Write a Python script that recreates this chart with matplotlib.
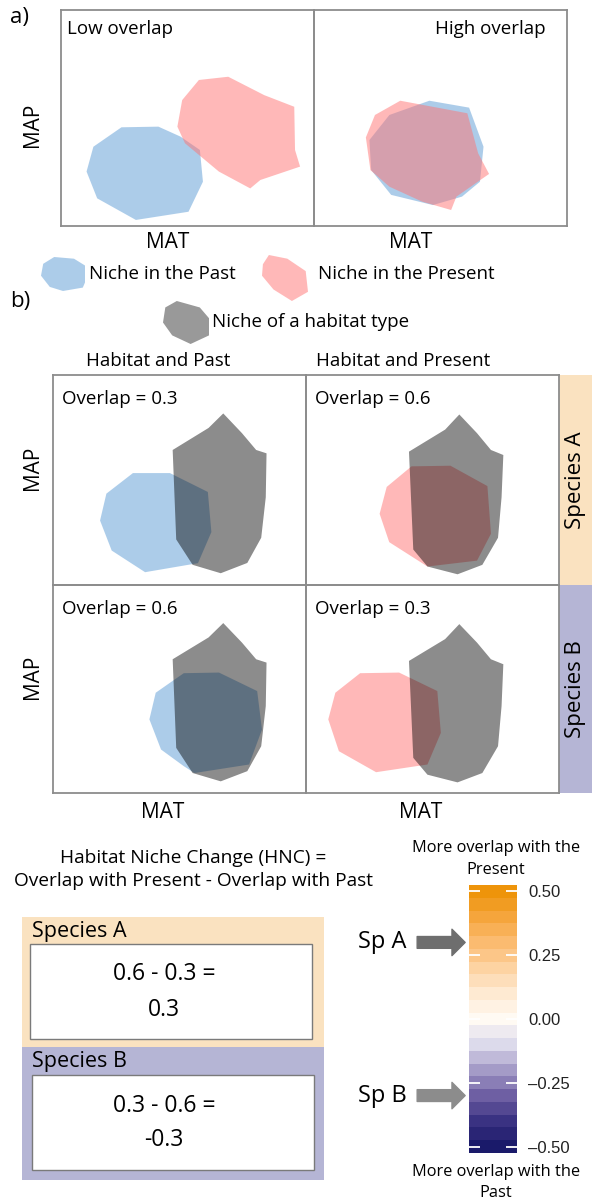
import matplotlib
matplotlib.use("Agg")
import matplotlib.pyplot as plt
from matplotlib.colors import LinearSegmentedColormap, ListedColormap, BoundaryNorm
from matplotlib.patches import Rectangle
import numpy as np

W, H = 592, 1203
plt.rcParams['font.family'] = ['Open Sans', 'DejaVu Sans']

# niche hulls (x = MAT, y = MAP, scaled 0-1 within each panel)
low_past_x = [0.239, 0.385, 0.472, 0.549, 0.561, 0.504, 0.296, 0.143, 0.101, 0.128]
low_past_y = [0.457, 0.460, 0.414, 0.352, 0.205, 0.066, 0.028, 0.128, 0.252, 0.367]
low_present_x = [0.545, 0.661, 0.803, 0.922, 0.925, 0.945, 0.788, 0.748, 0.624, 0.490, 0.460, 0.479]
low_present_y = [0.676, 0.691, 0.606, 0.552, 0.352, 0.275, 0.213, 0.174, 0.252, 0.383, 0.460, 0.583]
high_past_x = [0.456, 0.613, 0.670, 0.656, 0.585, 0.470, 0.305, 0.226, 0.219, 0.298]
high_past_y = [0.580, 0.548, 0.367, 0.205, 0.136, 0.097, 0.144, 0.259, 0.398, 0.514]
high_present_x = [0.341, 0.606, 0.649, 0.692, 0.563, 0.542, 0.427, 0.298, 0.223, 0.205, 0.241]
high_present_y = [0.580, 0.522, 0.336, 0.241, 0.136, 0.074, 0.113, 0.182, 0.259, 0.410, 0.514]

habitat_left_x = [0.673, 0.615, 0.473, 0.487, 0.552, 0.663, 0.768, 0.823, 0.841, 0.844, 0.803, 0.747]
habitat_left_y = [0.817, 0.748, 0.643, 0.217, 0.096, 0.056, 0.105, 0.225, 0.418, 0.627, 0.643, 0.723]
habitat_right_x = [0.606, 0.550, 0.407, 0.424, 0.480, 0.599, 0.697, 0.759, 0.773, 0.780, 0.731, 0.676]
habitat_right_y = [0.812, 0.740, 0.635, 0.169, 0.088, 0.051, 0.096, 0.225, 0.418, 0.619, 0.643, 0.723]

spA_past_x = [0.316, 0.462, 0.612, 0.626, 0.573, 0.364, 0.232, 0.186, 0.211]
spA_past_y = [0.533, 0.533, 0.443, 0.252, 0.104, 0.061, 0.164, 0.307, 0.435]
spA_present_x = [0.417, 0.571, 0.717, 0.731, 0.676, 0.480, 0.329, 0.291, 0.319]
spA_present_y = [0.565, 0.568, 0.471, 0.244, 0.116, 0.088, 0.204, 0.339, 0.467]
spB_past_x = [0.517, 0.656, 0.807, 0.826, 0.775, 0.559, 0.517, 0.427, 0.381, 0.406, 0.473]
spB_past_y = [0.576, 0.579, 0.490, 0.305, 0.137, 0.096, 0.129, 0.209, 0.354, 0.482, 0.539]
spB_present_x = [0.214, 0.368, 0.519, 0.533, 0.480, 0.277, 0.130, 0.088, 0.116]
spB_present_y = [0.576, 0.579, 0.490, 0.289, 0.137, 0.100, 0.201, 0.354, 0.482]

# small legend blobs
blob_past_x = [0.30, 0.75, 1.00, 1.00, 0.95, 0.50, 0.20, 0.00, 0.05]
blob_past_y = [1.00, 0.95, 0.75, 0.25, 0.10, 0.00, 0.12, 0.45, 0.80]
blob_present_x = [0.15, 0.55, 0.95, 1.00, 0.65, 0.25, 0.00, 0.02]
blob_present_y = [1.00, 0.92, 0.65, 0.20, 0.00, 0.25, 0.55, 0.80]
blob_habitat_x = [0.30, 0.80, 1.00, 1.00, 0.60, 0.20, 0.00, 0.05]
blob_habitat_y = [1.00, 0.85, 0.60, 0.20, 0.00, 0.20, 0.50, 0.85]

# overlaps and HNC
species = ['Species A', 'Species B']
overlap_past = [0.3, 0.6]
overlap_present = [0.6, 0.3]
hnc = [round(p - q, 1) for p, q in zip(overlap_present, overlap_past)]

hnc_levels = [-0.50, -0.45, -0.40, -0.35, -0.30, -0.25, -0.20, -0.15, -0.10, -0.05, 0.00,
              0.05, 0.10, 0.15, 0.20, 0.25, 0.30, 0.35, 0.40, 0.45, 0.50]
hnc_ticks = [0.50, 0.25, 0.00, -0.25, -0.50]
hnc_ticklabels = ['0.50', '0.25', '0.00', '\u20130.25', '\u20130.50']

PAST = '#5b9bd5'
PRESENT = '#ff7373'
EDGE = '#8c8c8c'
FS = 13.5
AXFS = 15

fig = plt.figure(figsize=(W / 100, H / 100), dpi=100)
bg = fig.add_axes([0, 0, 1, 1])
bg.set_xlim(0, W)
bg.set_ylim(H, 0)
bg.axis('off')


def px_axes(x0, y0, x1, y1):
    return fig.add_axes([x0 / W, 1 - y1 / H, (x1 - x0) / W, (y1 - y0) / H])


def panel(x0, y0, x1, y1):
    ax = px_axes(x0, y0, x1, y1)
    ax.set_xlim(0, 1)
    ax.set_ylim(0, 1)
    ax.set_xticks([])
    ax.set_yticks([])
    ax.patch.set_alpha(0)
    for s in ax.spines.values():
        s.set_color(EDGE)
        s.set_linewidth(1.3)
    return ax


def blob(x0, y0, x1, y1, xs, ys, **kw):
    ax = px_axes(x0, y0, x1, y1)
    ax.set_xlim(0, 1)
    ax.set_ylim(0, 1)
    ax.axis('off')
    ax.fill(xs, ys, lw=0, **kw)


# ---- a) low vs high overlap
bg.text(10, 17, 'a)', fontsize=16, va='center')
ax = panel(61, 10, 314, 226)
ax.fill(low_past_x, low_past_y, color=PAST, alpha=0.5, lw=0)
ax.fill(low_present_x, low_present_y, color=PRESENT, alpha=0.5, lw=0)
ax.text(0.025, 0.91, 'Low overlap', fontsize=FS, transform=ax.transAxes, va='center')
ax = panel(314, 10, 567, 226)
ax.fill(high_past_x, high_past_y, color=PAST, alpha=0.5, lw=0)
ax.fill(high_present_x, high_present_y, color=PRESENT, alpha=0.5, lw=0)
ax.text(0.915, 0.91, 'High overlap', fontsize=FS, transform=ax.transAxes, va='center', ha='right')
bg.text(33, 125, 'MAP', fontsize=AXFS, rotation=90, ha='center', va='center')
bg.text(168, 243, 'MAT', fontsize=AXFS, ha='center', va='center')
bg.text(411, 243, 'MAT', fontsize=AXFS, ha='center', va='center')

# legend
blob(41, 257, 85, 291, blob_past_x, blob_past_y, color=PAST, alpha=0.5)
bg.text(89, 274, 'Niche in the Past', fontsize=FS, va='center')
blob(262, 255, 308, 301, blob_present_x, blob_present_y, color=PRESENT, alpha=0.5)
bg.text(318, 274, 'Niche in the Present', fontsize=FS, va='center')
bg.text(10, 302, 'b)', fontsize=16, va='center')
blob(163, 301, 209, 344, blob_habitat_x, blob_habitat_y, color='black', alpha=0.4)
bg.text(212, 322, 'Niche of a habitat type', fontsize=FS, va='center')

# ---- b) habitat vs species niches
bg.text(86, 361, 'Habitat and Past', fontsize=FS, va='center')
bg.text(316, 361, 'Habitat and Present', fontsize=FS, va='center')

rows = [(375, 585), (585, 793)]
cols = [(53, 306), (306, 559)]
hulls = [[(spA_past_x, spA_past_y, PAST), (spA_present_x, spA_present_y, PRESENT)],
         [(spB_past_x, spB_past_y, PAST), (spB_present_x, spB_present_y, PRESENT)]]
habitats = [(habitat_left_x, habitat_left_y), (habitat_right_x, habitat_right_y)]
overlaps = [[overlap_past[0], overlap_present[0]], [overlap_past[1], overlap_present[1]]]
strip_colors = ['#fae2c0', '#b5b5d5']

for i, (y0, y1) in enumerate(rows):
    for j, (x0, x1) in enumerate(cols):
        ax = panel(x0, y0, x1, y1)
        xs, ys, c = hulls[i][j]
        ax.fill(xs, ys, color=c, alpha=0.5, lw=0)
        hx, hy = habitats[j]
        ax.fill(hx, hy, color='black', alpha=0.45, lw=0)
        ax.text(0.035, 0.885, f'Overlap = {overlaps[i][j]}', fontsize=FS,
                transform=ax.transAxes, va='center')
    bg.add_patch(Rectangle((559, y0), 33, y1 - y0, color=strip_colors[i], lw=0))
    bg.text(576, (y0 + y1) / 2, species[i], fontsize=16, rotation=90,
            ha='center', va='center')
    bg.text(33, (y0 + y1) / 2 - 12, 'MAP', fontsize=AXFS, rotation=90,
            ha='center', va='center')

bg.text(163, 812, 'MAT', fontsize=AXFS, ha='center', va='center')
bg.text(421, 812, 'MAT', fontsize=AXFS, ha='center', va='center')

# ---- HNC calculation boxes
bg.text(193, 858, 'Habitat Niche Change (HNC) =', fontsize=13.8, ha='center', va='center')
bg.text(193, 881, 'Overlap with Present - Overlap with Past', fontsize=13.8,
        ha='center', va='center')

boxes = [(917, 1047, 944, 1039), (1047, 1180, 1075, 1170)]
for i, (b0, b1, w0, w1) in enumerate(boxes):
    bg.add_patch(Rectangle((22, b0), 302, b1 - b0, color=strip_colors[i], lw=0))
    bg.add_patch(Rectangle((30 + i * 2, w0), 282, w1 - w0, facecolor='white',
                           edgecolor='#7a7a7a', lw=1))
    bg.text(32, (b0 + w0) / 2 + 1, species[i], fontsize=15.5, va='center')
    mid = (w0 + w1) / 2
    bg.text(164, mid - 17, f'{overlap_present[i]} - {overlap_past[i]} =', fontsize=16.5,
            ha='center', va='center')
    bg.text(164, mid + 18, f'{hnc[i]}', fontsize=16.5, ha='center', va='center')

# ---- HNC colour scale
node_vals = [-0.5, -0.4, -0.3, -0.2, -0.1, 0.0, 0.1, 0.2, 0.3, 0.4, 0.5]
node_cols = ['#1a1a6a', '#3b3282', '#6e5fa3', '#a59cc8', '#dcdaeb', '#fffaf4',
             '#feead2', '#fdd3a3', '#fbbb70', '#f5a53d', '#ee940a']
cmap_smooth = LinearSegmentedColormap.from_list(
    'hnc', [((v + 0.5), c) for v, c in zip(node_vals, node_cols)])
edges = [hnc_levels[0] - 0.025] + [v + 0.025 for v in hnc_levels]
norm = BoundaryNorm(edges, len(hnc_levels))
band_cmap = ListedColormap([cmap_smooth(v + 0.5) for v in hnc_levels])

cb = px_axes(469, 885, 517, 1153)
cb.pcolormesh([0, 1], edges, np.array(hnc_levels).reshape(-1, 1), cmap=band_cmap, norm=norm)
cb.set_xlim(0, 1)
cb.set_ylim(edges[0], edges[-1])
for s in cb.spines.values():
    s.set_visible(False)
cb.set_xticks([])
cb.yaxis.tick_right()
cb.set_yticks(hnc_ticks)
cb.set_yticklabels(hnc_ticklabels, family='Liberation Sans', fontsize=12, color='#222222')
cb.tick_params(axis='y', length=0, pad=8)
cb.hlines(hnc_ticks, 0, 0.22, color='white', lw=1.3)
cb.hlines(hnc_ticks, 0.78, 1, color='white', lw=1.3)

bg.text(496, 848, 'More overlap with the', fontsize=11.8, ha='center', va='center')
bg.text(496, 870, 'Present', fontsize=11.8, ha='center', va='center')
bg.text(496, 1172, 'More overlap with the', fontsize=11.8, ha='center', va='center')
bg.text(496, 1193, 'Past', fontsize=11.8, ha='center', va='center')

# species arrows pointing at their HNC value
arrow_cols = ['#6e6e6e', '#8c8c8c']
for i, name in enumerate(['Sp A', 'Sp B']):
    cb.annotate('', xy=(-0.08, hnc[i]), xytext=(-1.08, hnc[i]),
                xycoords=cb.get_yaxis_transform(),
                arrowprops=dict(arrowstyle='simple,head_width=1.9,head_length=0.95,tail_width=0.85',
                                color=arrow_cols[i], shrinkA=0, shrinkB=0,
                                mutation_scale=10),
                annotation_clip=False)
    cb.text(-1.3, hnc[i], name, fontsize=17, ha='right', va='center',
            transform=cb.get_yaxis_transform())

fig.savefig('out.png', dpi=100)
